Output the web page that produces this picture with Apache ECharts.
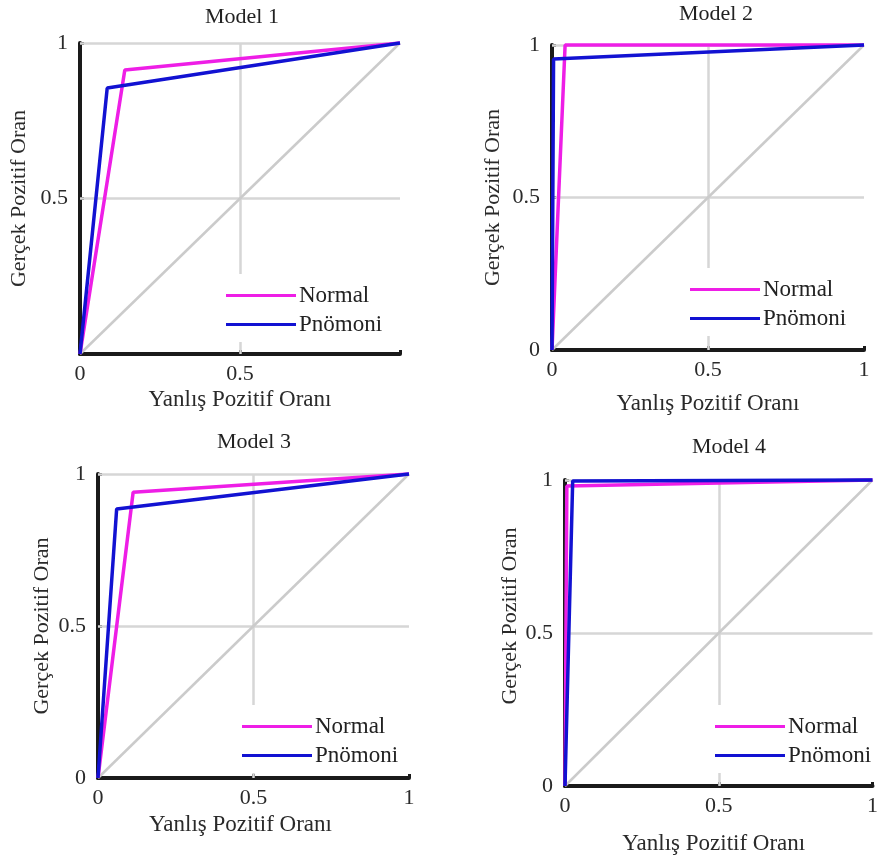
<!DOCTYPE html>
<html>
<head>
<meta charset="utf-8">
<script src="https://cdn.jsdelivr.net/npm/echarts@6/dist/echarts.min.js"></script>
<style>
html,body{margin:0;padding:0;background:#fff;}
#chart{width:881px;height:859px;}
</style>
</head>
<body>
<div id="chart"></div>
<script>
// ---- data ----
const modelNames = ['Model 1', 'Model 2', 'Model 3', 'Model 4'];
const seriesNames = ['Normal', 'Pnömoni'];
const xAxisName = 'Yanlış Pozitif Oranı';
const yAxisName = 'Gerçek Pozitif Oran';
const normalFpr  = [[0, 0.14, 1], [0, 0.042, 1], [0, 0.113, 1], [0, 0.006, 1]];
const normalTpr  = [[0, 0.913, 1], [0, 1, 1], [0, 0.94, 1], [0, 0.98, 1]];
const pnomoniFpr = [[0, 0.085, 1], [0, 0.005, 1], [0, 0.06, 1], [0, 0.025, 1]];
const pnomoniTpr = [[0, 0.855, 1], [0, 0.954, 1], [0, 0.885, 1], [0, 0.997, 1]];
const chanceLine = [[0, 0], [1, 1]];
const tickValues = [0, 0.5, 1];
const xTickLabels = [['0', '0.5', ''], ['0', '0.5', '1'], ['0', '0.5', '1'], ['0', '0.5', '1']];
const yTickLabels = [['', '0.5', '1'], ['0', '0.5', '1'], ['0', '0.5', '1'], ['0', '0.5', '1']];
const gridXLines = [0.5];
const gridYLines = [0.5, 1];

// ---- layout / style ----
const layout = [
  {left: 80,  top: 43,  width: 320, height: 311, titleX: 242, titleY: 6,   xGap: 34, yGap: 50, legX: 222, legY: 274, xPad: [0,0,0,0], yPad: [0,0,0,0]},
  {left: 552, top: 45,  width: 312, height: 305, titleX: 716, titleY: 3,   xGap: 42, yGap: 48, legX: 686, legY: 268, xPad: [0,0,0,0], yPad: [0,0,0,0]},
  {left: 98,  top: 474, width: 311, height: 304, titleX: 254, titleY: 431, xGap: 35, yGap: 45, legX: 238, legY: 705, xPad: [0,26,0,0], yPad: [0,0,0,0]},
  {left: 565, top: 480, width: 316, height: 306, titleX: 729, titleY: 436, xGap: 46, yGap: 42, legX: 711, legY: 705, xPad: [0,10,0,0], yPad: [0,0,0,34]}
];
const FONT = 'Liberation Serif';
const magenta = '#ee1ee6';
const blue = '#1212d2';
const textColor = '#2a2a2a';

const grid = [], xAxis = [], yAxis = [], series = [], title = [], legend = [];
modelNames.forEach((name, i) => {
  const L = layout[i];
  grid.push({left: L.left, top: L.top, width: L.width, height: L.height, containLabel: false});
  title.push({
    text: name, left: L.titleX, top: L.titleY, textAlign: 'center', padding: 0,
    textStyle: {fontFamily: FONT, fontSize: 22, fontWeight: 'normal', color: '#222'}
  });
  const axisCommon = {
    type: 'value', min: 0, max: 1, interval: 0.5,
    nameLocation: 'middle',
    axisLine: {show: true, onZero: false, lineStyle: {color: '#1a1a1a', width: 4}},
    axisTick: {show: true, inside: true, length: 4, lineStyle: {color: '#1a1a1a', width: 3}},
    splitLine: {show: false}
  };
  xAxis.push(Object.assign({}, axisCommon, {
    gridIndex: i, name: xAxisName, nameGap: L.xGap,
    nameTextStyle: {fontFamily: FONT, fontSize: 23, color: textColor, padding: L.xPad},
    axisLabel: {fontFamily: FONT, fontSize: 22, color: textColor, margin: 9,
      formatter: v => xTickLabels[i][tickValues.indexOf(Math.round(v * 2) / 2)] || ''}
  }));
  yAxis.push(Object.assign({}, axisCommon, {
    gridIndex: i, name: yAxisName, nameGap: L.yGap,
    nameTextStyle: {fontFamily: FONT, fontSize: 22, color: textColor, padding: L.yPad},
    axisLabel: {fontFamily: FONT, fontSize: 22, color: textColor, margin: 12,
      formatter: v => yTickLabels[i][tickValues.indexOf(Math.round(v * 2) / 2)] || ''}
  }));
  // chance diagonal + grid lines
  series.push({
    type: 'line', name: 'chance', xAxisIndex: i, yAxisIndex: i,
    data: chanceLine, showSymbol: false, silent: true, clip: false,
    lineStyle: {color: '#cbcbcb', width: 2.5},
    markLine: {
      silent: true, symbol: 'none', label: {show: false}, z: 1,
      lineStyle: {color: '#d6d6d6', width: 2.5, type: 'solid'},
      data: gridXLines.map(v => ({xAxis: v})).concat(gridYLines.map(v => ({yAxis: v})))
    }
  });
  series.push({
    type: 'line', name: seriesNames[0], xAxisIndex: i, yAxisIndex: i, color: magenta,
    data: normalFpr[i].map((x, k) => [x, normalTpr[i][k]]),
    showSymbol: false, clip: false, lineStyle: {color: magenta, width: 3.5}
  });
  series.push({
    type: 'line', name: seriesNames[1], xAxisIndex: i, yAxisIndex: i, color: blue,
    data: pnomoniFpr[i].map((x, k) => [x, pnomoniTpr[i][k]]),
    showSymbol: false, clip: false, lineStyle: {color: blue, width: 3.5}
  });
  legend.push({
    data: seriesNames, orient: 'vertical', left: L.legX, top: L.legY,
    padding: [10, 6, 6, 4], itemGap: 6, itemWidth: 70, itemHeight: 3,
    icon: 'rect', backgroundColor: '#ffffff', selectedMode: false, z: 10,
    textStyle: {fontFamily: FONT, fontSize: 23, color: '#222', padding: [0, 0, 0, -2]}
  });
});

const chart = echarts.init(document.getElementById('chart'), null, {renderer: 'canvas'});
chart.setOption({
  animation: false,
  backgroundColor: '#ffffff',
  title, grid, xAxis, yAxis, series, legend
});
</script>
</body>
</html>
